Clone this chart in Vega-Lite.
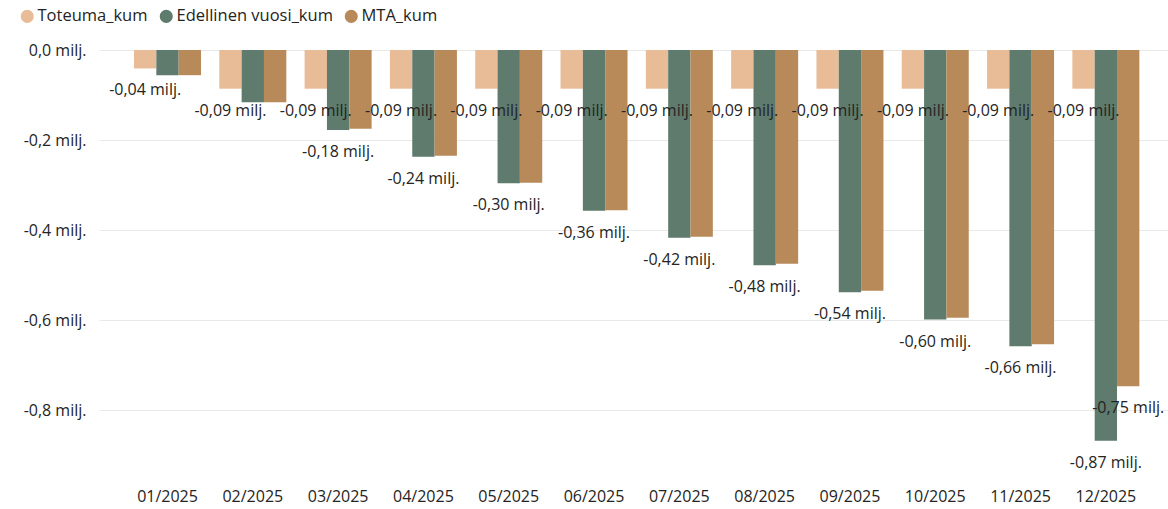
{
  "$schema": "https://vega.github.io/schema/vega-lite/v6.json",
  "width": 1069,
  "height": 428,
  "autosize": "none",
  "padding": {"left": 99, "top": 50, "right": 0, "bottom": 31},
  "background": "white",
  "config": {
    "locale": {"number": {"decimal": ",", "thousands": " ", "grouping": [3], "currency": ["", " €"], "minus": "-"}},
    "view": {"stroke": null},
    "font": "Open Sans"
  },
  "data": {
    "values": [
      {"month": "01/2025", "series": "Toteuma_kum", "value": -0.041},
      {"month": "02/2025", "series": "Toteuma_kum", "value": -0.086},
      {"month": "03/2025", "series": "Toteuma_kum", "value": -0.086},
      {"month": "04/2025", "series": "Toteuma_kum", "value": -0.086},
      {"month": "05/2025", "series": "Toteuma_kum", "value": -0.086},
      {"month": "06/2025", "series": "Toteuma_kum", "value": -0.086},
      {"month": "07/2025", "series": "Toteuma_kum", "value": -0.086},
      {"month": "08/2025", "series": "Toteuma_kum", "value": -0.086},
      {"month": "09/2025", "series": "Toteuma_kum", "value": -0.086},
      {"month": "10/2025", "series": "Toteuma_kum", "value": -0.086},
      {"month": "11/2025", "series": "Toteuma_kum", "value": -0.086},
      {"month": "12/2025", "series": "Toteuma_kum", "value": -0.086},
      {"month": "01/2025", "series": "Edellinen vuosi_kum", "value": -0.056},
      {"month": "02/2025", "series": "Edellinen vuosi_kum", "value": -0.116},
      {"month": "03/2025", "series": "Edellinen vuosi_kum", "value": -0.178},
      {"month": "04/2025", "series": "Edellinen vuosi_kum", "value": -0.237},
      {"month": "05/2025", "series": "Edellinen vuosi_kum", "value": -0.296},
      {"month": "06/2025", "series": "Edellinen vuosi_kum", "value": -0.357},
      {"month": "07/2025", "series": "Edellinen vuosi_kum", "value": -0.417},
      {"month": "08/2025", "series": "Edellinen vuosi_kum", "value": -0.478},
      {"month": "09/2025", "series": "Edellinen vuosi_kum", "value": -0.538},
      {"month": "10/2025", "series": "Edellinen vuosi_kum", "value": -0.599},
      {"month": "11/2025", "series": "Edellinen vuosi_kum", "value": -0.658},
      {"month": "12/2025", "series": "Edellinen vuosi_kum", "value": -0.868},
      {"month": "01/2025", "series": "MTA_kum", "value": -0.056},
      {"month": "02/2025", "series": "MTA_kum", "value": -0.116},
      {"month": "03/2025", "series": "MTA_kum", "value": -0.175},
      {"month": "04/2025", "series": "MTA_kum", "value": -0.235},
      {"month": "05/2025", "series": "MTA_kum", "value": -0.295},
      {"month": "06/2025", "series": "MTA_kum", "value": -0.356},
      {"month": "07/2025", "series": "MTA_kum", "value": -0.415},
      {"month": "08/2025", "series": "MTA_kum", "value": -0.475},
      {"month": "09/2025", "series": "MTA_kum", "value": -0.535},
      {"month": "10/2025", "series": "MTA_kum", "value": -0.595},
      {"month": "11/2025", "series": "MTA_kum", "value": -0.654},
      {"month": "12/2025", "series": "MTA_kum", "value": -0.747}
    ]
  },
  "encoding": {
    "x": {
      "field": "month", "type": "nominal", "sort": null,
      "scale": {"paddingInner": 0.2145, "paddingOuter": 0.373, "align": 0.55},
      "axis": {"title": null, "labelAngle": 0, "ticks": false, "domain": false, "grid": false, "labelFontSize": 16, "labelColor": "#252423", "labelPadding": 10}
    },
    "xOffset": {"field": "series", "type": "nominal", "sort": ["Toteuma_kum", "Edellinen vuosi_kum", "MTA_kum"]},
    "y": {
      "field": "value", "type": "quantitative",
      "scale": {"domain": [-0.951, 0], "nice": false, "zero": false},
      "axis": {"title": null, "values": [0, -0.2, -0.4, -0.6, -0.8], "format": ".1f", "labelExpr": "datum.label + ' milj.'", "ticks": false, "domain": false, "grid": true, "gridColor": "#E9E9E9", "gridWidth": 1, "labelFontSize": 16, "labelColor": "#252423", "labelPadding": 13}
    }
  },
  "layer": [
    {
      "mark": {"type": "bar"},
      "encoding": {
        "color": {
          "field": "series", "type": "nominal",
          "scale": {"domain": ["Toteuma_kum", "Edellinen vuosi_kum", "MTA_kum"], "range": ["#E8BC96", "#5F7B6D", "#B88A5A"]},
          "legend": {"title": null, "orient": "none", "legendX": -80, "legendY": -42, "direction": "horizontal", "symbolType": "circle", "symbolSize": 170, "symbolStrokeWidth": 0, "symbolOpacity": 1, "labelFontSize": 16.5, "labelColor": "#252423", "labelOffset": 2, "columnPadding": 10, "padding": 0}
        }
      }
    },
    {
      "transform": [
        {"filter": "datum.series == 'Toteuma_kum' || (datum.series == 'Edellinen vuosi_kum' && datum.month != '01/2025' && datum.month != '02/2025') || (datum.series == 'MTA_kum' && datum.month == '12/2025')"},
        {"calculate": "format(datum.value, '.2f') + ' milj.'", "as": "label"}
      ],
      "mark": {"type": "text", "dy": 22, "fontSize": 16, "color": "#252423", "baseline": "middle"},
      "encoding": {"text": {"field": "label", "type": "nominal"}}
    }
  ]
}
